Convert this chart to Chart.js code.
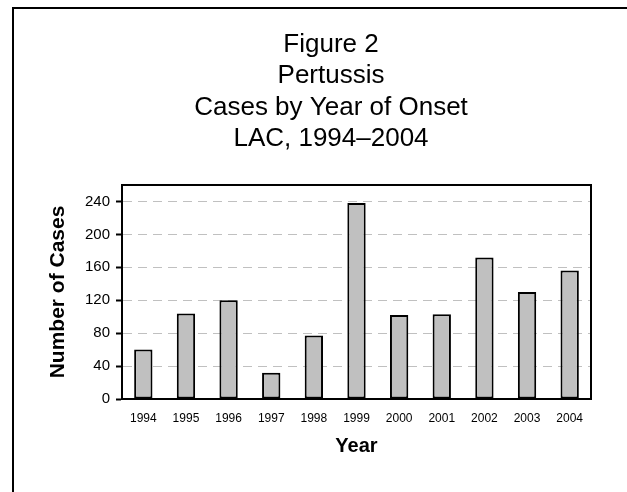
<!DOCTYPE html>
<html>
<head>
<meta charset="utf-8">
<script src="https://cdn.jsdelivr.net/npm/chart.js@4/dist/chart.umd.min.js"></script>
<style>
  body { margin: 0; width: 627px; height: 492px; overflow: hidden; background: #fff; position: relative; }
  #frame { position: absolute; left: 12px; top: 7px; width: 700px; height: 600px; border: 2px solid #000; }
  #chart1 { position: absolute; left: 0; top: 0; }
</style>
</head>
<body>
<div id="frame"></div>
<canvas id="chart1" width="627" height="492"></canvas>
<script>
// DATA
const years = ['1994', '1995', '1996', '1997', '1998', '1999', '2000', '2001', '2002', '2003', '2004'];
const cases = [60, 104, 120, 32, 77, 238, 102, 103, 172, 130, 156];
const yTicks = [0, 40, 80, 120, 160, 200, 240];
const titleLines = ['Figure 2', 'Pertussis', 'Cases by Year of Onset', 'LAC, 1994\u20132004'];

const FONT = "'Liberation Sans', Arial, sans-serif";

// box round the plot area
const plotBox = {
    id: 'plotBox',
    afterDatasetsDraw(chart) {
        const a = chart.chartArea;
        const ctx = chart.ctx;
        ctx.save();
        ctx.strokeStyle = '#000';
        ctx.lineWidth = 2;
        ctx.strokeRect(a.left, a.top, a.right - a.left, a.bottom - a.top);
        ctx.restore();
    }
};

// CHART
let ctx1 = document.getElementById('chart1').getContext('2d');
let myChart1 = new Chart(ctx1, {
    type: 'bar',
    data: {
        labels: years,
        datasets: [{
            label: 'Cases',
            data: cases,
            backgroundColor: '#c0c0c0',
            borderColor: '#000',
            borderWidth: 2,
            borderSkipped: false,
            categoryPercentage: 1,
            barPercentage: 0.43
        }]
    },
    options: {
        responsive: false,
        animation: false,
        layout: { padding: { left: 71, right: 36, top: 0, bottom: 0 } },
        plugins: {
            legend: { display: false },
            tooltip: { enabled: false },
            title: {
                display: true,
                text: titleLines,
                color: '#000',
                font: { family: FONT, size: 26, weight: 'normal', lineHeight: 1.2115 },
                padding: { top: 29, bottom: 30 }
            }
        },
        scales: {
            x: {
                grid: { display: true, drawOnChartArea: false, drawTicks: false },
                border: { display: true, color: '#000', width: 2 },
                ticks: { color: '#000', font: { family: FONT, size: 12 }, padding: 12, maxRotation: 0 },
                title: {
                    display: true,
                    text: 'Year',
                    color: '#000',
                    font: { family: FONT, size: 20, weight: 'bold', lineHeight: 1.2 },
                    padding: { top: 0, bottom: 34 }
                },
                afterFit(scale) { scale.height = 93; }
            },
            y: {
                min: 0,
                max: 260,
                grid: {
                    color: '#c0c0c0',
                    lineWidth: 1,
                    drawTicks: true,
                    tickLength: 6,
                    tickColor: '#000',
                    tickWidth: 2
                },
                border: { display: true, color: '#000', width: 2, dash: [9, 6] },
                ticks: {
                    stepSize: 40,
                    color: '#000',
                    padding: 6,
                    font: { family: FONT, size: 15 }
                },
                afterBuildTicks(scale) {
                    scale.ticks = yTicks.map(v => ({ value: v }));
                },
                title: {
                    display: true,
                    text: 'Number of Cases',
                    color: '#000',
                    font: { family: FONT, size: 21, weight: 'bold', lineHeight: 1.2 },
                    padding: { top: -25, bottom: 0 }
                },
                afterFit(scale) { scale.width = 51; }
            }
        }
    },
    plugins: [plotBox]
});
</script>
</body>
</html>
